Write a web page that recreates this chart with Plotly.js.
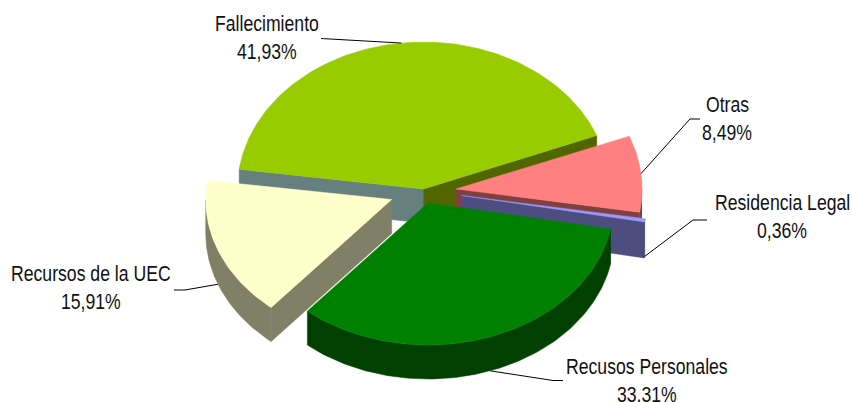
<!DOCTYPE html>
<html><head><meta charset="utf-8">
<script src="https://cdn.plot.ly/plotly-3.0.1.min.js"></script>
<style>html,body{margin:0;padding:0;background:#fff}#c{width:852px;height:402px}
.annotation-text{transform-box:fill-box;transform-origin:center;transform:scaleX(.82)}</style>
</head><body><div id="c"></div>
<script>
// Data
const categories = ["Fallecimiento","Otras","Residencia Legal","Recusos Personales","Recursos de la UEC"];
const shares = [41.93, 8.49, 0.36, 33.31, 15.91];
// Style
const topColors = ["#99cc00","#ff8080","#9999ff","#008000","#ffffcc"];
const rimColors = ["#526600","#804040","#4d4d80","#004000","#808066"];
const firstWallColors = ["#668080",null,null,null,"#808066"];   // wall at slice start
const lastWallColors = ["#526600","#804040","#4d4d80",null,null]; // wall at slice end
// Layout of exploded 3D look
const apexX = [423.5,456,461.5,428,391.7];
const apexY = [189,189,195.5,203,199.5];
const radiusY = [147,145,145,142,142];
const depth = [34,34,36,34,34];
const labelX = [267,727,782,647,91];
const labelY = [23,104,202,366,273];
const elbowX = [[330,321],[690,700],[693,707],[553,563],[185,174]];
const elbowY = [[38.5,38.5],[119,119],[220,220],[380.5,380.5],[290,290]];
const RX = 186, START = -82.3;
const drawOrder = [0,1,2,4,3];

const rad = d => d*Math.PI/180;
const px = (i,t) => apexX[i] + RX*Math.sin(rad(t));
const py = (i,t,dz=0) => apexY[i] - radiusY[i]*Math.cos(rad(t)) + dz;
const total = shares.reduce((a,b)=>a+b,0);
const from = [], to = [];
let acc = START;
shares.forEach((s,i)=>{from[i]=acc; acc+=s/total*360; to[i]=acc;});

const poly = (xs,ys,color)=>({type:'scatter',mode:'lines',x:xs,y:ys,fill:'toself',fillcolor:color,
  line:{width:0.5,color:color},hoverinfo:'skip',showlegend:false});
const arcPts = (i,a,b,dz)=>{const xs=[],ys=[];const n=Math.max(2,Math.ceil(Math.abs(b-a)));
  for(let k=0;k<=n;k++){const t=a+(b-a)*k/n;xs.push(px(i,t));ys.push(py(i,t,dz));}return [xs,ys];};

const traces=[];
drawOrder.forEach(i=>{
  const d=depth[i], ax=apexX[i], ay=apexY[i];
  const wall=(t,c)=>traces.push(poly([ax,px(i,t),px(i,t),ax,ax],[ay,py(i,t),py(i,t,d),ay+d,ay],c));
  if(firstWallColors[i]) wall(from[i],firstWallColors[i]);
  if(lastWallColors[i]) wall(to[i],lastWallColors[i]);
  const a=Math.max(from[i],90), b=Math.min(to[i],270);
  if(b>a){
    const [x1,y1]=arcPts(i,a,b,0), [x2,y2]=arcPts(i,b,a,d);
    traces.push(poly(x1.concat(x2),y1.concat(y2),rimColors[i]));
  }
  const [tx,ty]=arcPts(i,from[i],to[i],0);
  traces.push(poly([ax].concat(tx,[ax]),[ay].concat(ty,[ay]),topColors[i]));
});
// leader lines start at slice mid angle
categories.forEach((c,i)=>{
  const m=(from[i]+to[i])/2;
  const front=Math.cos(rad(m))<-0.1;
  traces.push({type:'scatter',mode:'lines',x:[px(i,m),elbowX[i][0],elbowX[i][1]],
    y:[py(i,m,front?depth[i]:0),elbowY[i][0],elbowY[i][1]],
    line:{color:'#000',width:1},hoverinfo:'skip',showlegend:false});
});
const font={family:'"Liberation Sans",Arial,sans-serif',size:21.5,color:'#111'};
const annotations=[];
categories.forEach((c,i)=>{
  annotations.push({x:labelX[i],y:labelY[i],xref:'x',yref:'y',text:c,showarrow:false,font,xanchor:'center',yanchor:'middle'});
  annotations.push({x:labelX[i],y:labelY[i]+27.5,xref:'x',yref:'y',text:shares[i].toFixed(2).replace('.',',')+'%',showarrow:false,font,xanchor:'center',yanchor:'middle'});
});
Plotly.newPlot('c',traces,{width:852,height:402,margin:{l:0,r:0,t:0,b:0},paper_bgcolor:'#fff',plot_bgcolor:'#fff',
  xaxis:{range:[0,852],visible:false,fixedrange:true},yaxis:{range:[402,0],visible:false,fixedrange:true},
  annotations,showlegend:false},{displayModeBar:false,staticPlot:true});
</script></body></html>
